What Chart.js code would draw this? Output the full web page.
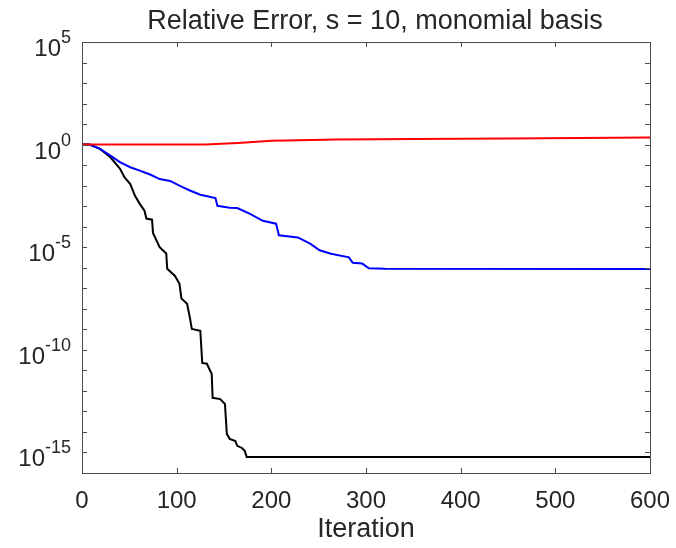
<!DOCTYPE html>
<html>
<head>
<meta charset="utf-8">
<script src="https://cdn.jsdelivr.net/npm/chart.js@4.4.1/dist/chart.umd.min.js"></script>
<style>
  html, body { margin: 0; padding: 0; background: #fff; }
  #wrap { width: 676px; height: 548px; }
</style>
</head>
<body>
<div id="wrap"><canvas id="chart"></canvas></div>
<script>
// Values
const xTicks = [0, 100, 200, 300, 400, 500, 600];
const yTickExps = [-16, -15, -14, -13, -12, -11, -10, -9, -8, -7, -6, -5, -4, -3, -2, -1, 0, 1, 2, 3, 4, 5];
const yLabelExps = [5, 0, -5, -10, -15];

const redIter = [0, 130, 165, 200, 270, 350, 450, 600];
const redErr = [1, 1.0, 1.2, 1.55, 1.8, 1.9, 2.0, 2.25];

const blueIter = [0, 8, 19, 30, 40, 51, 61, 72, 82, 93, 104, 114, 125, 137, 141, 143, 156, 164, 177, 191, 205, 208, 228, 241, 251, 263, 282, 286, 296, 303, 320, 600];
const blueErr = [1, 1, 0.62, 0.29, 0.14, 0.079, 0.054, 0.035, 0.021, 0.017, 0.0095, 0.0058, 0.0036, 0.0027, 0.0025, 0.00105,
  8.5e-4, 8.1e-4, 4.3e-4, 1.95e-4, 1.4e-4, 3.8e-5, 3.0e-5, 1.5e-5, 7.1e-6, 4.8e-6, 3.2e-6, 1.74e-6, 1.6e-6, 9.5e-7, 8.9e-7, 8.7e-7];

const blackIter = [0, 8, 19, 30, 40, 45, 51, 56, 61, 66, 68, 74, 75, 82, 89, 90, 98, 103, 105, 111, 114, 116, 125, 127, 132, 134,
  137, 138, 146, 151, 153, 156, 162, 164, 169, 172, 174, 600];
const blackErr = [1, 1, 0.62, 0.24, 0.068, 0.025, 0.012, 0.0032, 0.0013, 6.0e-4, 2.5e-4, 2.2e-4, 5e-5, 1e-5, 5e-6, 8.9e-7,
  4.1e-7, 1.66e-7, 3.2e-8, 1.74e-8, 3.6e-9, 1.05e-9, 8.5e-10, 2.3e-11, 2.1e-11, 1.3e-11, 6.8e-12, 4.6e-13, 4e-13, 2.3e-13,
  7.9e-15, 4.6e-15, 3.6e-15, 2.1e-15, 1.66e-15, 1.17e-15, 6e-16, 6e-16];

const FONT = '"Liberation Sans", Arial, Helvetica, sans-serif';
const TEXT = '#262626';
const AXIS = '#4d4d4d';

function toPoints(xs, ys) {
    return xs.map((x, i) => ({ x: x, y: ys[i] }));
}

// Box, inside ticks and labels in MATLAB style
const matlabAxes = {
    id: 'matlabAxes',
    afterDatasetsDraw(chart) {
        const ctx = chart.ctx;
        const a = chart.chartArea;
        const xs = chart.scales.x;
        const ys = chart.scales.y;
        const tick = 5;

        ctx.save();
        ctx.strokeStyle = AXIS;
        ctx.lineWidth = 1;
        ctx.strokeRect(Math.round(a.left) + 0.5, Math.round(a.top) + 0.5,
            Math.round(a.right - a.left), Math.round(a.bottom - a.top));

        ctx.beginPath();
        xTicks.forEach(v => {
            const px = Math.round(xs.getPixelForValue(v)) + 0.5;
            ctx.moveTo(px, a.bottom); ctx.lineTo(px, a.bottom - tick);
            ctx.moveTo(px, a.top); ctx.lineTo(px, a.top + tick);
        });
        yTickExps.forEach(e => {
            const py = Math.round(ys.getPixelForValue(Math.pow(10, e))) + 0.5;
            ctx.moveTo(a.left, py); ctx.lineTo(a.left + tick, py);
            ctx.moveTo(a.right, py); ctx.lineTo(a.right - tick, py);
        });
        ctx.stroke();

        // x tick labels
        ctx.fillStyle = TEXT;
        ctx.font = '24px ' + FONT;
        ctx.textAlign = 'center';
        ctx.textBaseline = 'alphabetic';
        xTicks.forEach(v => {
            ctx.fillText(String(v), xs.getPixelForValue(v), a.bottom + 35);
        });

        // y tick labels: 10 with superscript exponent
        yLabelExps.forEach(e => {
            const py = ys.getPixelForValue(Math.pow(10, e));
            const right = a.left - 11;
            ctx.font = '18px ' + FONT;
            const sup = String(e);
            const supW = ctx.measureText(sup).width;
            ctx.textAlign = 'right';
            ctx.fillText(sup, right, py + 1);
            ctx.font = '24px ' + FONT;
            ctx.fillText('10', right - supW, py + 14);
        });

        // axis label and title
        ctx.textAlign = 'center';
        ctx.font = '27px ' + FONT;
        ctx.fillText('Iteration', (a.left + a.right) / 2, a.bottom + 64);
        ctx.fillText('Relative Error, s = 10, monomial basis', (a.left + a.right) / 2 + 9, 29);
        ctx.restore();
    }
};

new Chart(document.getElementById('chart'), {
    type: 'line',
    data: {
        datasets: [
            { data: toPoints(redIter, redErr), borderColor: '#ff0000' },
            { data: toPoints(blueIter, blueErr), borderColor: '#0000ff' },
            { data: toPoints(blackIter, blackErr), borderColor: '#000000' }
        ]
    },
    options: {
        responsive: true,
        maintainAspectRatio: false,
        animation: false,
        layout: { padding: { left: 74, top: 42, right: 26, bottom: 67 } },
        elements: {
            line: { borderWidth: 2, tension: 0 },
            point: { radius: 0 }
        },
        plugins: {
            legend: { display: false },
            tooltip: { enabled: false }
        },
        scales: {
            x: {
                type: 'linear', min: 0, max: 600,
                ticks: { display: false },
                grid: { display: false },
                border: { display: false }
            },
            y: {
                type: 'logarithmic', min: 1e-16, max: 1e5,
                ticks: { display: false },
                grid: { display: false },
                border: { display: false }
            }
        }
    },
    plugins: [matlabAxes]
});
</script>
</body>
</html>
